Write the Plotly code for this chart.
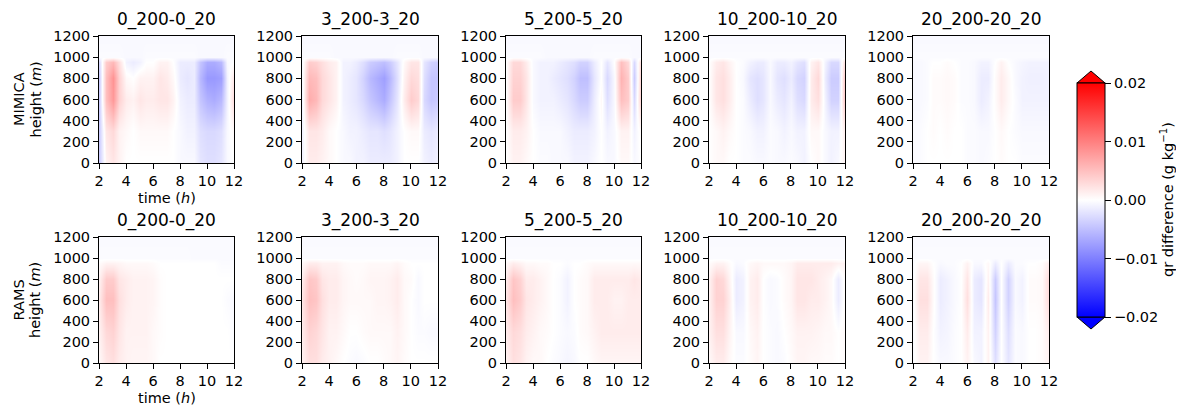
import plotly.graph_objects as go

# grid of the difference fields
times = [2, 2.5, 3, 3.5, 4, 4.5, 5, 5.5, 6, 6.5, 7, 7.5, 8, 8.5, 9, 9.5, 10, 10.5, 11, 11.5, 12]
heights = [0, 300, 600, 800, 950, 1000, 1200]
titles = ["0_200-0_20", "3_200-3_20", "5_200-5_20", "10_200-10_20", "20_200-20_20"]
models = ["MIMICA", "RAMS"]
cbar_ticks = [-0.02, -0.01, 0.0, 0.01, 0.02]
cbar_labels = ["\u22120.02", "\u22120.01", "0.00", "0.01", "0.02"]

# qr difference in 1e-3 g/kg, one row per height, one column per time
mimica_0 = [
    [-4, 1, 2, 1, 0, 0, 0, 0, 0, 0, 0, 0, -0.5, -0.5, -0.5, -2, -2.5, -2.5, -2, -0.5, 0],
    [-4, 2, 3, 1, 0.5, 0, 0.5, 0.5, 0.5, 0.5, 0.5, 0, -0.5, -1, -1, -2.5, -3, -3, -2.5, -0.5, 0.5],
    [-4, 5, 8, 3.5, 1.5, 1, 2, 1.5, 1.5, 2, 2, 1, -1, -1.5, -1.5, -4.5, -6, -6.5, -5.5, -1, 3],
    [-4, 5, 8.5, 3.5, 0.5, 0, 1, 1, 1, 2, 1.5, 0.5, -1.5, -2, -1.5, -5.5, -8, -8, -7.5, -1, 2],
    [-3, 4, 5.5, 2.5, -1, -1.5, -1, 0, 0, 1, 1, 0, -1.5, -1.5, -1.5, -4.5, -6.5, -6.5, -5.5, -0.5, 0],
    [-0.3, -0.3, -0.3, -0.3, -0.5, -0.5, -0.5, -0.3, -0.3, -0.3, -0.3, -0.3, -0.3, -0.3, -0.3, -0.5, -0.5, -0.5, -0.5, -0.3, -0.3],
    [-0.5, -0.5, -0.5, -0.5, -0.5, -0.5, -0.5, -0.5, -0.5, -0.5, -0.5, -0.5, -0.5, -0.5, -0.5, -0.5, -0.5, -0.5, -0.5, -0.5, -0.5],
]
mimica_3 = [
    [-1, 1.5, 1.5, 1, 0.5, 0, -0.5, -0.5, -1, -1, -1.5, -1.5, -1.5, -1.5, -1, 0, 0, 0, -1, -1.5, -1],
    [-1, 2, 2, 1.5, 0.5, 0, -0.5, -1, -1, -1.5, -2, -2, -2.5, -2, -1, 0, 0.5, 0.5, -1.5, -2, -1.5],
    [-1, 6.5, 5.5, 3, 2, 1, -1, -1.5, -2, -3, -4.5, -5.5, -6.5, -4.5, -2, 1.5, 4, 3, -3, -4.5, -4],
    [-0.5, 5.5, 5, 3, 2, 1, -1, -1.5, -2, -3.5, -5.5, -6.5, -7.5, -5.5, -2.5, 1, 3, 2.5, -2.5, -4.5, -4.5],
    [-0.5, 4, 3.5, 2.5, 1.5, 1, -1, -1, -1.5, -2.5, -4, -4.5, -5, -4, -2, 0.5, 2, 2, -2, -3.5, -4],
    [-0.3, -0.3, -0.3, -0.3, -0.3, -0.5, -0.5, -0.5, -0.5, -0.5, -0.5, -0.5, -0.5, -0.5, -0.3, -0.3, -0.3, -0.3, -0.5, -0.5, -0.5],
    [-0.5, -0.5, -0.5, -0.5, -0.5, -0.5, -0.5, -0.5, -0.5, -0.5, -0.5, -0.5, -0.5, -0.5, -0.5, -0.5, -0.5, -0.5, -0.5, -0.5, -0.5],
]
mimica_5 = [
    [0, 1, 1, 0.5, 0, -0.3, -0.3, -0.5, -0.5, -0.5, -1, -1, -1, -0.5, 0, -0.5, -0.5, 0.5, 0.5, -0.5, 0],
    [0, 1.5, 1.5, 1, 0, -0.5, -0.5, -0.5, -0.5, -1, -1.5, -1.5, -1.5, -1, 0, -1, -0.5, 1, 1, -1, 0.5],
    [0, 4, 4, 2, -0.5, -1, -1, -1, -1.5, -2, -3, -4, -4, -1.5, 0.5, -2.5, -0.5, 5, 4, -3, 4],
    [0, 3.5, 3.5, 2, -0.5, -1, -1, -1.5, -2, -2.5, -3.5, -5, -5, -2, 0, -3, -0.5, 6, 4, -4, 4],
    [0, 3, 3, 1.5, -0.5, -1, -1, -1, -1.5, -2, -2.5, -3.5, -3.5, -1.5, 0, -2, 0, 5, 3, -3, 3],
    [-0.3, -0.3, -0.3, -0.3, -0.3, -0.3, -0.5, -0.5, -0.5, -0.5, -0.5, -0.5, -0.5, -0.3, -0.3, -0.3, -0.3, -0.3, -0.3, -0.5, -0.5],
    [-0.5, -0.5, -0.5, -0.5, -0.5, -0.5, -0.5, -0.5, -0.5, -0.5, -0.5, -0.5, -0.5, -0.5, -0.5, -0.5, -0.5, -0.5, -0.5, -0.5, -0.5],
]
mimica_10 = [
    [0, 0.5, 0.5, 0, 0, -0.3, -0.3, -0.5, -0.5, -0.3, -0.5, -0.5, -0.3, -0.5, -1, 0, 0.5, -0.5, -1, -0.5, 1],
    [0, 0.5, 1, 0.5, 0, -0.3, -0.5, -1, -1, -0.3, -0.5, -1, -0.5, -1, -1, 0.5, 0.5, -0.5, -1, -1, 1.5],
    [0, 2, 2.5, 1.5, 0, -0.3, -1.5, -2.5, -2, -0.5, -1.5, -2, -1, -2.5, -3, 1.5, 2.5, -1, -3.5, -3.5, 5],
    [0, 2, 2.5, 1.5, 0, -0.5, -2, -2.5, -2, -0.5, -2, -2.5, -1.5, -3, -3.5, 1.5, 3, -1.5, -4, -4, 5],
    [0, 1.5, 2, 1, 0, -0.3, -1, -1.5, -1.5, -0.5, -1.5, -1.5, -1, -2, -2.5, 1, 2, -1, -3, -3, 3],
    [-0.3, -0.3, -0.3, -0.3, -0.3, -0.3, -0.3, -0.3, -0.3, -0.3, -0.3, -0.3, -0.3, -0.3, -0.3, -0.3, -0.3, -0.3, -0.3, -0.3, -0.3],
    [-0.5, -0.5, -0.5, -0.5, -0.5, -0.5, -0.5, -0.5, -0.5, -0.5, -0.5, -0.5, -0.5, -0.5, -0.5, -0.5, -0.5, -0.5, -0.5, -0.5, -0.5],
]
mimica_20 = [
    [-0.3, -0.3, 0, 0, 0, 0, 0, 0, -0.3, -0.3, -0.5, -0.3, 0, 0.3, 0, 0, -0.3, -0.3, -0.3, -0.3, -0.3],
    [-0.3, -0.3, 0, 0.3, 0, 0.3, 0, 0, -0.3, -0.3, -0.5, -0.5, 0, 0.5, 0, -0.3, -0.5, -0.5, -0.5, -0.5, -0.5],
    [-0.5, -0.5, -0.3, 0.3, 0.3, 0.5, 0.3, -0.3, -0.3, -0.5, -1.5, -1, 0.3, 1.5, 0.5, -0.3, -1, -1, -1, -1, -1],
    [-0.5, -0.5, -0.3, 0.3, 0.3, 0.5, 0.3, -0.3, -0.3, -0.5, -1.5, -1.5, 0.3, 1.5, 0.5, -0.5, -1, -1.2, -1.2, -1.2, -1],
    [-0.5, -0.5, -0.3, 0, 0, 0.3, 0, -0.3, -0.3, -0.5, -1, -1, 0, 1, 0, -0.5, -0.8, -1, -1, -1, -1],
    [-0.3, -0.3, -0.3, -0.3, -0.3, -0.3, -0.3, -0.3, -0.3, -0.3, -0.3, -0.3, -0.3, -0.3, -0.3, -0.3, -0.3, -0.3, -0.3, -0.3, -0.3],
    [-0.5, -0.5, -0.5, -0.5, -0.5, -0.5, -0.5, -0.5, -0.5, -0.5, -0.5, -0.5, -0.5, -0.5, -0.5, -0.5, -0.5, -0.5, -0.5, -0.5, -0.5],
]
rams_0 = [
    [0.5, 2, 2.5, 1.5, 1, 0.8, 0.8, 0.8, 0.5, 0, 0, 0, 0, 0, 0, 0, 0, 0, 0, 0, 0],
    [1, 3, 3.5, 2, 1, 1, 1, 1, 0.5, 0.2, 0, 0, 0, 0, 0, 0, 0, 0, 0, 0, -0.3],
    [1.5, 5, 5, 2.5, 1.5, 1, 1, 1, 0.8, 0.2, 0, 0, 0, 0, 0, 0, 0, 0, 0, -0.3, -0.5],
    [1, 4, 4, 2, 1.5, 1, 1, 1, 0.8, 0.2, 0, 0, 0, 0, 0, 0, 0, 0, 0, 0, 0],
    [0.3, 1, 1, 0.8, 0.5, 0.5, 0.5, 0.5, 0.3, 0, 0, 0, 0, 0, 0, 0, 0, 0, -0.3, -0.3, -0.3],
    [-0.3, -0.3, -0.3, -0.3, -0.3, -0.3, -0.3, -0.3, -0.3, -0.3, -0.3, -0.3, -0.3, -0.3, -0.4, -0.4, -0.4, -0.4, -0.4, -0.4, -0.4],
    [-0.4, -0.4, -0.4, -0.4, -0.4, -0.4, -0.4, -0.4, -0.4, -0.4, -0.4, -0.4, -0.4, -0.4, -0.4, -0.4, -0.4, -0.4, -0.4, -0.4, -0.4],
]
rams_3 = [
    [1, 2.5, 2.5, 1.5, 1, 0.5, 0, -0.3, -0.5, -0.3, 0, 0, 0.3, 0.5, 0.8, 0.3, 0, 0, 0, 0, 0],
    [1.5, 3.5, 3, 2, 1, 1, 0.5, 0, 0, 0.3, 0.5, 0.5, 0.5, 0.5, 1, 0.5, 0, -0.3, -0.3, -0.5, -0.5],
    [2, 5, 4.5, 2.5, 1.5, 1.5, 0.8, 0.5, 0.5, 0.5, 0.5, 0.8, 0.8, 1, 1.5, 0.5, 0, -0.5, 0, 0, 0],
    [1.5, 4.5, 4, 2, 1.5, 1.5, 0.8, 0.5, 0.3, 0.5, 0.8, 0.8, 0.8, 1, 1.5, 0.5, 0.3, -0.5, 0, 0, 0],
    [0.5, 1.5, 1.5, 1, 1, 1, 0.5, 0.3, 0.3, 0.3, 0.5, 0.5, 0.5, 0.5, 0.8, 0.3, 0, 0, 0, 0, 0],
    [-0.3, -0.3, -0.3, -0.3, -0.3, -0.3, -0.3, -0.3, -0.3, -0.3, -0.3, -0.3, -0.3, -0.3, -0.3, -0.3, -0.3, -0.3, -0.3, -0.3, -0.3],
    [-0.4, -0.4, -0.4, -0.4, -0.4, -0.4, -0.4, -0.4, -0.4, -0.4, -0.4, -0.4, -0.4, -0.4, -0.4, -0.4, -0.4, -0.4, -0.4, -0.4, -0.4],
]
rams_5 = [
    [1, 2.5, 2, 1, 0.5, 0.5, 0, -0.3, -0.5, -0.8, -0.5, 0, 0, 0.5, 0.8, 0.8, 0.8, 0.8, 0.8, 0.8, 0.8],
    [1.5, 3, 2.5, 1.5, 1, 0.5, 0.3, 0, -0.3, -0.5, -0.3, 0.3, 0.5, 1, 1.5, 1.5, 1.5, 1.5, 1.5, 1.5, 1.5],
    [2, 5, 4, 2, 1.5, 1, 0.5, 0, -0.3, -1, 0, 0.3, 0.5, 1.5, 1.5, 1.5, 1, 1, 1.5, 1.5, 1.5],
    [1.5, 4.5, 3.5, 1.5, 1.5, 1, 0.5, 0, -0.3, -1, 0, 0.3, 0.5, 1.5, 1.5, 1.5, 1.5, 1.5, 1.5, 2, 1.5],
    [0.5, 1.5, 1, 0.5, 0.5, 0.3, 0.3, 0, 0, -0.3, 0, 0, 0.3, 0.5, 0.5, 0.5, 0.5, 0.5, 0.5, 0.5, 0.5],
    [-0.3, -0.3, -0.3, -0.3, -0.3, -0.3, -0.3, -0.3, -0.3, -0.3, -0.3, -0.3, -0.3, -0.3, -0.3, -0.3, -0.3, -0.3, -0.3, -0.3, -0.3],
    [-0.4, -0.4, -0.4, -0.4, -0.4, -0.4, -0.4, -0.4, -0.4, -0.4, -0.4, -0.4, -0.4, -0.4, -0.4, -0.4, -0.4, -0.4, -0.4, -0.4, -0.4],
]
rams_10 = [
    [0.5, 1.5, 1.5, 0.5, -0.3, -0.3, 0.3, 0.8, 0, -0.3, -0.5, -0.3, 0.3, 0.8, 0.8, 0.5, 0.5, 0.3, 0.3, 0, 0.3],
    [1, 2.5, 2.5, 1, -0.5, -0.5, 0.5, 1, 0, -0.3, -0.5, 0, 0.5, 1, 1, 1, 0.8, 0.5, 0.5, 0, 0.5],
    [1, 3.5, 3.5, 1.5, -1.5, -1, 1, 1.5, 0, -0.5, -0.3, 0.3, 0.8, 2, 2, 1.5, 1.5, 1, 0.5, -1.5, 0.5],
    [1, 3.5, 3, 1, -1.5, -1, 1, 1.5, 0, -0.5, -0.3, 0.3, 0.8, 2, 2, 2, 1.5, 1, 0.5, -1.5, 0.5],
    [0.3, 1, 1, 0.3, -0.5, -0.3, 0.5, 0.8, 0.5, 0.5, 0.5, 0.5, 0.8, 1.5, 1.5, 1.5, 1.5, 1.5, 1.5, 1, 1],
    [-0.3, -0.3, -0.3, -0.3, -0.3, -0.3, -0.3, -0.3, -0.3, -0.3, -0.3, -0.3, -0.3, -0.3, -0.3, -0.3, -0.3, -0.3, -0.3, -0.3, -0.3],
    [-0.4, -0.4, -0.4, -0.4, -0.4, -0.4, -0.4, -0.4, -0.4, -0.4, -0.4, -0.4, -0.4, -0.4, -0.4, -0.4, -0.4, -0.4, -0.4, -0.4, -0.4],
]
rams_20 = [
    [-0.3, 1, 1, 0, -0.5, -0.5, -0.3, 0, 1, -0.5, -1, 1, -2.5, 0, -2, -0.3, -0.5, 0, 0, 0.3, 1],
    [-0.3, 1.5, 1.5, 0, -1, -0.8, -0.3, 0, 1.5, -1, -1, 1, -3.5, 0, -2.5, -0.3, -0.5, 0, 0, 0.3, 1.5],
    [-0.3, 2.5, 2.5, 0.3, -1.5, -1, -0.5, 0, 2.5, -1.5, -2, 1.5, -4.5, 0, -3.5, -0.5, -1, 0.3, 0.3, 0.5, 3],
    [-0.3, 2, 2, 0.3, -1.5, -1, -0.5, 0, 2, -1.5, -2, 1, -4, 0, -3.5, -0.5, -1, 0.3, 0.3, 0.5, 3],
    [-0.3, 0.8, 0.8, 0, -0.5, -0.3, -0.3, 0, 1, -0.5, -0.5, 0.5, -1.5, 0, -1.5, -0.3, -0.3, 0, 0, 0.3, 1.5],
    [-0.3, -0.3, -0.3, -0.3, -0.3, -0.3, -0.3, -0.3, -0.3, -0.3, -0.3, -0.3, -0.3, -0.3, -0.3, -0.3, -0.3, -0.3, -0.3, -0.3, -0.3],
    [-0.4, -0.4, -0.4, -0.4, -0.4, -0.4, -0.4, -0.4, -0.4, -0.4, -0.4, -0.4, -0.4, -0.4, -0.4, -0.4, -0.4, -0.4, -0.4, -0.4, -0.4],
]

fields = [
    [mimica_0, mimica_3, mimica_5, mimica_10, mimica_20],
    [rams_0, rams_3, rams_5, rams_10, rams_20],
]

# page body puts the figure 8 px in from the top-left corner
OFF = 8
W, H = 1184 - OFF, 407 - OFF
FONT = "DejaVu Sans"
col_px = [(99, 234), (302, 438), (506, 641), (709, 845), (913, 1049)]
row_px = [(36, 163), (237, 363)]

bwr = [[0, "rgb(0,0,255)"], [0.5, "rgb(255,255,255)"], [1, "rgb(255,0,0)"]]


def px_x(x):
    return (x - OFF) / W


def px_y(y):
    return 1 - (y - OFF) / H


fig = go.Figure()
annotations = []
layout_axes = {}

for r in range(2):
    for c in range(5):
        i = r * 5 + c + 1
        sfx = "" if i == 1 else str(i)
        z = [[v * 1e-3 for v in row] for row in fields[r][c]]
        trace = go.Heatmap(
            x=times, y=heights, z=z, xaxis="x" + sfx, yaxis="y" + sfx,
            colorscale=bwr, zmin=-0.02, zmax=0.02, zsmooth="best",
            showscale=(i == 1),
        )
        if i == 1:
            trace.colorbar = dict(
                thickness=28, thicknessmode="pixels",
                len=234 / H, lenmode="fraction",
                x=px_x(1077), xanchor="left", xpad=0,
                y=px_y(200), yanchor="middle", ypad=0,
                outlinewidth=1, outlinecolor="black",
                tickvals=cbar_ticks, ticktext=cbar_labels,
                ticks="outside", ticklen=6, tickcolor="black",
                tickfont=dict(family=FONT, size=14.5, color="black"),
            )
        fig.add_trace(trace)

        x0, x1 = col_px[c]
        y0, y1 = row_px[r]
        axis_style = dict(
            showline=True, mirror=True, linecolor="black", linewidth=1,
            ticks="outside", ticklen=5, tickwidth=1, tickcolor="black",
            showgrid=False, zeroline=False, automargin=False,
            tickfont=dict(family=FONT, size=14.5, color="black"),
        )
        layout_axes["xaxis" + sfx] = dict(
            axis_style, domain=[px_x(x0), px_x(x1)], range=[2, 12],
            tickvals=[2, 4, 6, 8, 10, 12], anchor="y" + sfx,
        )
        layout_axes["yaxis" + sfx] = dict(
            axis_style, domain=[px_y(y1), px_y(y0)], range=[0, 1200],
            tickvals=[0, 200, 400, 600, 800, 1000, 1200], anchor="x" + sfx,
        )

        # panel title
        annotations.append(dict(
            text=titles[c], x=px_x((x0 + x1) / 2), y=px_y(y0 - 4),
            xref="paper", yref="paper", xanchor="center", yanchor="bottom",
            showarrow=False, font=dict(family=FONT, size=17, color="black"),
        ))

    # row labels and time label
    y0, y1 = row_px[r]
    ymid = px_y((y0 + y1) / 2)
    for txt, xp in [(models[r], 18.5), ("height (<i>m</i>)", 35)]:
        annotations.append(dict(
            text=txt, x=px_x(xp), y=ymid, xref="paper", yref="paper",
            xanchor="center", yanchor="middle", textangle=-90, showarrow=False,
            font=dict(family=FONT, size=14.5, color="black"),
        ))
    annotations.append(dict(
        text="time (<i>h</i>)", x=px_x(sum(col_px[0]) / 2), y=px_y(y1 + 35),
        xref="paper", yref="paper", xanchor="center", yanchor="middle",
        showarrow=False, font=dict(family=FONT, size=14.5, color="black"),
    ))

# colorbar label
annotations.append(dict(
    text="qr difference (g kg<sup>\u22121</sup>)", x=px_x(1167), y=px_y(200),
    xref="paper", yref="paper", xanchor="center", yanchor="middle",
    textangle=-90, showarrow=False,
    font=dict(family=FONT, size=14.5, color="black"),
))

# extend triangles on the colorbar
cb_l, cb_r, cb_top, cb_bot = 1077, 1105, 83, 317
cb_mid = (cb_l + cb_r) / 2
shapes = []
for base, tip, col in [(cb_top, 71, "rgb(255,0,0)"), (cb_bot, 329, "rgb(0,0,255)")]:
    path = "M {},{} L {},{} L {},{} Z".format(
        px_x(cb_l), px_y(base), px_x(cb_mid), px_y(tip), px_x(cb_r), px_y(base))
    shapes.append(dict(type="path", path=path, xref="paper", yref="paper",
                       fillcolor=col, line=dict(color="black", width=1)))

fig.update_layout(
    width=W, height=H, margin=dict(l=0, r=0, t=0, b=0, autoexpand=False),
    paper_bgcolor="white", plot_bgcolor="white",
    annotations=annotations, shapes=shapes, showlegend=False,
    **layout_axes,
)

fig.write_html("out.html")
